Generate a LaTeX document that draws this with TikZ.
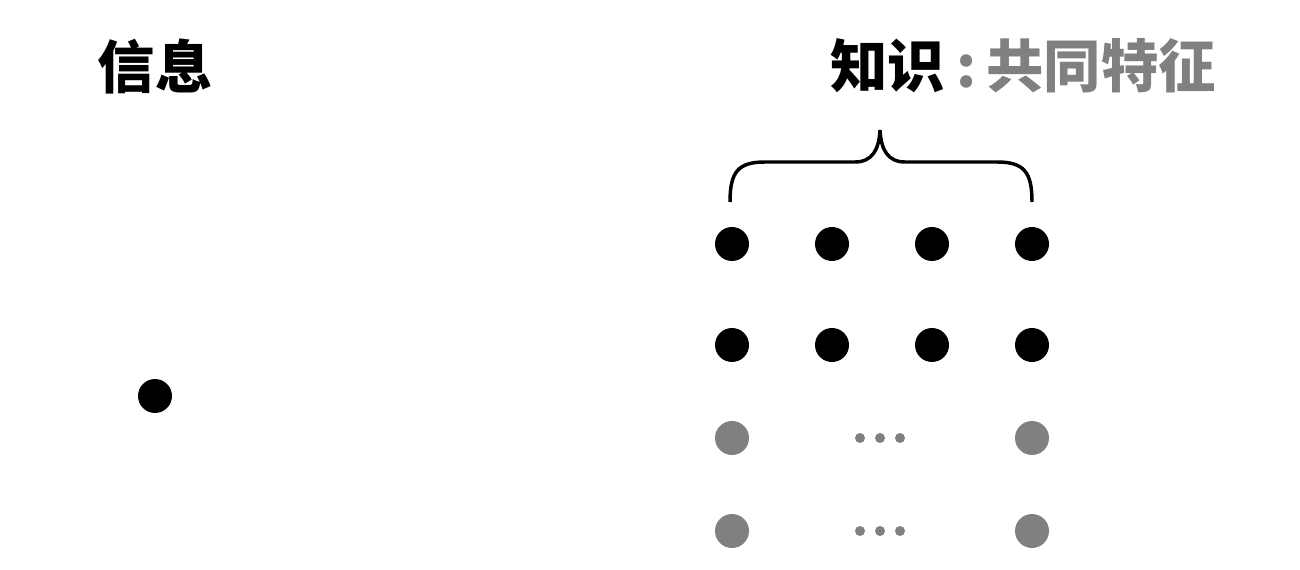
\documentclass[tikz,border=0pt]{standalone}
\usepackage{fontspec}
\newfontfamily\cjk{Noto Sans CJK SC}
\usepackage{xcolor}
\definecolor{DotGray}{RGB}{128,128,128}
\usetikzlibrary{positioning, calc}
\tikzset{
  % Large dot
  bigdot/.style={circle, fill=black, inner sep=0pt, minimum size=25.5pt},
  bigdot gray/.style={bigdot, fill=DotGray},
  % Small ellipsis dot
  smalldot/.style={circle, fill=DotGray, inner sep=0pt, minimum size=7.5pt},
  % Titles
  title/.style={font=\cjk\bfseries\fontsize{43}{50}\selectfont, inner sep=0pt},
}

\begin{document}
\begin{tikzpicture}[x=0.75pt, y=-0.75pt]
  \useasboundingbox (0,0) rectangle (1300,570);

  %% Titles
  \node[title] (info title) at (155,66) {信息};
  \node[title, anchor=east, text=DotGray] (know title) at (1216,66)
    {{\color{black}知识}\hspace{9pt}:\hspace{7pt}共同特征};

  %% Single information dot
  \node[bigdot] (info dot) at (155,396) {};

  %% Knowledge grid: two black rows
  \foreach \r/\y in {1/244, 2/345}{
    \foreach \c/\x in {1/732, 2/832, 3/932, 4/1032}{
      \node[bigdot] (k-\r-\c) at (\x,\y) {};
    }
  }
  %% Gray rows with ellipsis
  \foreach \r/\y in {3/438, 4/531}{
    \node[bigdot gray] (k-\r-1) at (732,\y) {};
    \node[bigdot gray] (k-\r-4) at (1032,\y) {};
    \foreach \d/\x in {1/860, 2/880, 3/900}{
      \node[smalldot] (e-\r-\d) at (\x,\y) {};
    }
  }

  %% Brace over the columns
  \coordinate (brace left) at (730,202);
  \coordinate (brace tip) at (880,130);
  \coordinate (brace right) at (1032,202);
  \draw[line width=2.6pt]
    (brace left) .. controls (730,172) and (738,162) .. (765,162)
    -- (855,162) .. controls (872,162) and (879,150) .. (brace tip)
    .. controls (881,150) and (888,162) .. (905,162)
    -- (997,162) .. controls (1024,162) and (1032,172) .. (brace right);
\end{tikzpicture}
\end{document}
